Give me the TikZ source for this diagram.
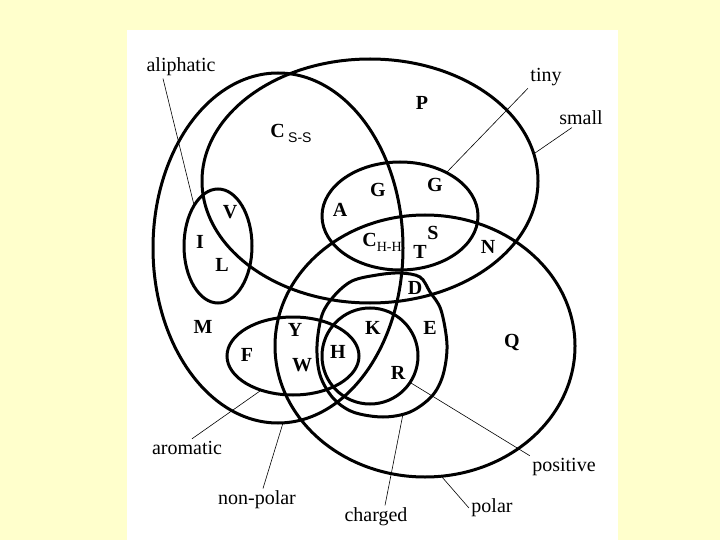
\documentclass[tikz,border=0pt]{standalone}
\usepackage{fontspec}
\setmainfont{Liberation Serif}
\newfontfamily\subfont{Liberation Sans}
\definecolor{paper}{RGB}{255,255,204}
\newcommand{\sub}[1]{\raisebox{-5pt}{\fontsize{14}{14}\selectfont\mdseries #1}}
\begin{document}
\begin{tikzpicture}[x=1pt,y=-1pt,line width=3pt,
  res/.style={font=\fontsize{20}{20}\selectfont\bfseries,inner sep=0pt},
  prop/.style={font=\fontsize{20}{20}\selectfont,inner sep=1pt},
  lead/.style={line width=0.6pt}]
% page
\path[fill=paper,use as bounding box] (0,0) rectangle (720,540);
\fill[white] (127,30) rectangle (618,540);
% the sets
\draw (278,248) ellipse (125pt and 175pt); % non-polar
\draw (370,181) ellipse (168pt and 122pt); % small
\draw (218,246) ellipse (34pt and 57pt);   % aliphatic
\draw (400,216) ellipse (78pt and 54pt);   % tiny
\draw (425,346) ellipse (150pt and 131pt); % polar
\draw plot[smooth cycle,tension=0.55] coordinates {(322,315) (334,296) (352,281)
  (377,275) (400,273) (420,277) (430,292) (441,310) (447,345) (443,375)
  (432,396) (410,412) (383,417) (353,412) (333,398) (320,375) (317,346)}; % charged
\draw (370,356) ellipse (48pt and 48pt);   % positive
\draw (293,356) ellipse (66pt and 39pt);   % aromatic
% residues
\node[res] (P) at (422,103) {P};
\node[res] (Css) at (291,133) {C\,\sub{\subfont S-S}};
\node[res] (G1) at (378,190) {G};
\node[res] (G2) at (435,185) {G};
\node[res] (A) at (340,210) {A};
\node[res] (V) at (230,212) {V};
\node[res] (I) at (200,242) {I};
\node[res] (L) at (222,265) {L};
\node[res] (Chh) at (382,242) {C\sub{H-H}};
\node[res] (S) at (433,233) {S};
\node[res] (T) at (420,252) {T};
\node[res] (N) at (488,247) {N};
\node[res] (D) at (415,288) {D};
\node[res] (M) at (203,327) {M};
\node[res] (Y) at (295,330) {Y};
\node[res] (K) at (373,328) {K};
\node[res] (E) at (430,328) {E};
\node[res] (Q) at (512,342) {Q};
\node[res] (F) at (247,355) {F};
\node[res] (H) at (338,352) {H};
\node[res] (W) at (302,365) {W};
\node[res] (R) at (398,373) {R};
% properties
\node[prop] (aliphatic) at (181,67) {aliphatic};
\node[prop] (tiny) at (546,77) {tiny};
\node[prop] (small) at (581,118) {small};
\node[prop] (aromatic) at (187,448) {aromatic};
\node[prop] (nonpolar) at (257,500) {non-polar};
\node[prop] (charged) at (376,517) {charged};
\node[prop] (polar) at (492,508) {polar};
\node[prop] (positive) at (564,467) {positive};
% pointers
\coordinate (alipedge) at (194,205);
\coordinate (tinyedge) at (447,172);
\coordinate (smalledge) at (535,153);
\coordinate (aromedge) at (260,391);
\coordinate (nonpedge) at (283,423);
\coordinate (chargedge) at (403,414);
\coordinate (polaredge) at (442,477);
\coordinate (posedge) at (411,383);
\draw[lead] ([xshift=-18]aliphatic.south) -- (alipedge);
\draw[lead] (tiny.south west) -- (tinyedge);
\draw[lead] ([xshift=-9]small.south) -- (smalledge);
\draw[lead] ([xshift=5]aromatic.north) -- (aromedge);
\draw[lead] ([xshift=6]nonpolar.north) -- (nonpedge);
\draw[lead] ([xshift=9]charged.north) -- (chargedge);
\draw[lead] (polar.west) -- (polaredge);
\draw[lead] (positive.north west) -- (posedge);
\end{tikzpicture}
\end{document}
